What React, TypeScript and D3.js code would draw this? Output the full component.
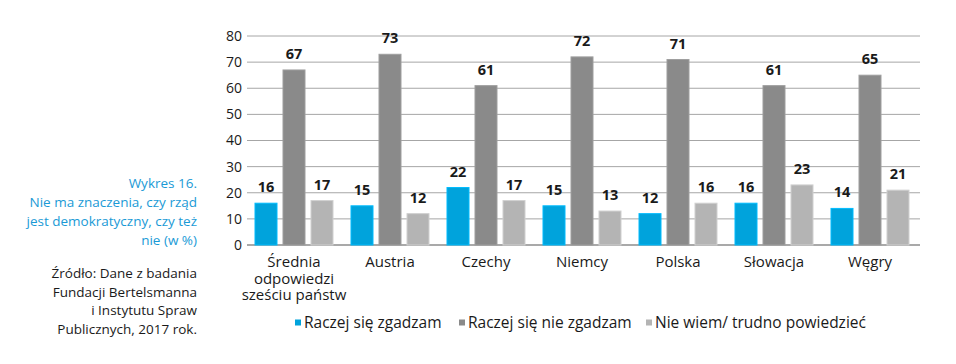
import { useEffect, useRef } from 'react';
import * as d3 from 'd3';

const categories = ['Średnia odpowiedzi sześciu państw', 'Austria', 'Czechy', 'Niemcy', 'Polska', 'Słowacja', 'Węgry'];
const categoryLines = [['Średnia', 'odpowiedzi', 'sześciu państw'], ['Austria'], ['Czechy'], ['Niemcy'], ['Polska'], ['Słowacja'], ['Węgry']];
const seriesNames = ['Raczej się zgadzam', 'Raczej się nie zgadzam', 'Nie wiem/ trudno powiedzieć'];
const agree = [16, 15, 22, 15, 12, 16, 14];
const disagree = [67, 73, 61, 72, 71, 61, 65];
const dontKnow = [17, 12, 17, 13, 16, 23, 21];
const yTicks = [0, 10, 20, 30, 40, 50, 60, 70, 80];
const colors = ['#00a3dc', '#8a8a8a', '#b4b4b4'];

const titleLines = ['Wykres 16.', 'Nie ma znaczenia, czy rząd', 'jest demokratyczny, czy też', 'nie (w %)'];
const sourceLines = ['Źródło: Dane z badania', 'Fundacji Bertelsmanna', 'i Instytutu Spraw', 'Publicznych, 2017 rok.'];

export default function App() {
  const svgRef = useRef<SVGSVGElement>(null);

  useEffect(() => {
    if (!svgRef.current) return;
    const svg = d3.select(svgRef.current);
    svg.selectAll('*').remove();

    const font = '"Open Sans", "Noto Sans", sans-serif';
    const left = 246, right = 918, top = 36, bottom = 245;
    const groupW = 78;

    const x = d3.scaleBand<string>().domain(categories).range([left, right]);
    const xInner = d3.scaleBand<string>().domain(seriesNames).range([0, groupW]).paddingInner(0.214).paddingOuter(0);
    const y = d3.scaleLinear().domain([0, 80]).range([bottom, top]);

    // gridlines + ticks
    const grid = svg.append('g');
    grid.selectAll('line')
      .data(yTicks)
      .join('line')
      .attr('x1', left + 1)
      .attr('x2', right + 2)
      .attr('y1', d => y(d))
      .attr('y2', d => y(d))
      .attr('stroke', d => d === 0 ? '#8c8c8c' : '#a6a6a6')
      .attr('stroke-width', d => d === 0 ? 1.5 : 1);
    grid.selectAll('text')
      .data(yTicks)
      .join('text')
      .attr('x', left - 4)
      .attr('y', d => y(d))
      .attr('dy', '0.35em')
      .attr('text-anchor', 'end')
      .attr('font-family', font)
      .attr('font-size', 14)
      .attr('fill', '#1a1a1a')
      .text(d => d);

    const series = [agree, disagree, dontKnow];
    const groups = svg.append('g')
      .selectAll('g')
      .data(categories)
      .join('g')
      .attr('transform', d => `translate(${(x(d) ?? 0) + (x.bandwidth() - groupW) / 2},0)`);

    groups.each(function (_cat, i) {
      const g = d3.select(this);
      seriesNames.forEach((s, k) => {
        const v = series[k][i];
        const bx = xInner(s) ?? 0;
        g.append('rect')
          .attr('x', bx)
          .attr('y', y(v))
          .attr('width', xInner.bandwidth())
          .attr('height', bottom - y(v))
          .attr('fill', colors[k])
          .attr('stroke', d3.color(colors[k])!.brighter(0.4).formatHex())
          .attr('stroke-width', 1);
        g.append('text')
          .attr('x', bx + xInner.bandwidth() / 2)
          .attr('y', y(v) - 11)
          .attr('text-anchor', 'middle')
          .attr('font-family', font)
          .attr('font-size', 14.5)
          .attr('font-weight', 'bold')
          .attr('fill', '#1a1a1a')
          .text(v);
      });
      const lines = categoryLines[i];
      g.append('text')
        .attr('x', groupW / 2)
        .attr('y', 267)
        .attr('text-anchor', 'middle')
        .attr('font-family', font)
        .attr('font-size', 15)
        .attr('fill', '#1a1a1a')
        .selectAll('tspan')
        .data(lines)
        .join('tspan')
        .attr('x', groupW / 2)
        .attr('dy', (_d, j) => j === 0 ? 0 : 16.5)
        .text(d => d);
    });

    // left annotations
    svg.append('text')
      .attr('font-family', font)
      .attr('font-size', 13.5)
      .attr('fill', '#1a9ad6')
      .attr('text-anchor', 'end')
      .selectAll('tspan')
      .data(titleLines)
      .join('tspan')
      .attr('x', 197)
      .attr('y', (_d, j) => 188 + j * 19)
      .text(d => d);

    svg.append('text')
      .attr('font-family', font)
      .attr('font-size', 13.5)
      .attr('fill', '#1a1a1a')
      .attr('text-anchor', 'end')
      .selectAll('tspan')
      .data(sourceLines)
      .join('tspan')
      .attr('x', 197)
      .attr('y', (_d, j) => 278 + j * 18.7)
      .text(d => d);

    // legend
    const legendX = [295, 459, 646];
    const legend = svg.append('g')
      .selectAll('g')
      .data(seriesNames)
      .join('g')
      .attr('transform', (_d, k) => `translate(${legendX[k]},323)`);
    legend.append('rect')
      .attr('x', 0)
      .attr('y', -3.5)
      .attr('width', 6)
      .attr('height', 6)
      .attr('fill', (_d, k) => colors[k]);
    legend.append('text')
      .attr('x', 9)
      .attr('y', 0)
      .attr('dy', '0.35em')
      .attr('font-family', font)
      .attr('font-size', 15.5)
      .attr('fill', '#1a1a1a')
      .text(d => d);
  }, []);

  return (
    <div style={{ position: 'absolute', left: 0, top: 0, width: 956, height: 364, background: '#fff' }}>
      <svg ref={svgRef} width={956} height={364} />
    </div>
  );
}
